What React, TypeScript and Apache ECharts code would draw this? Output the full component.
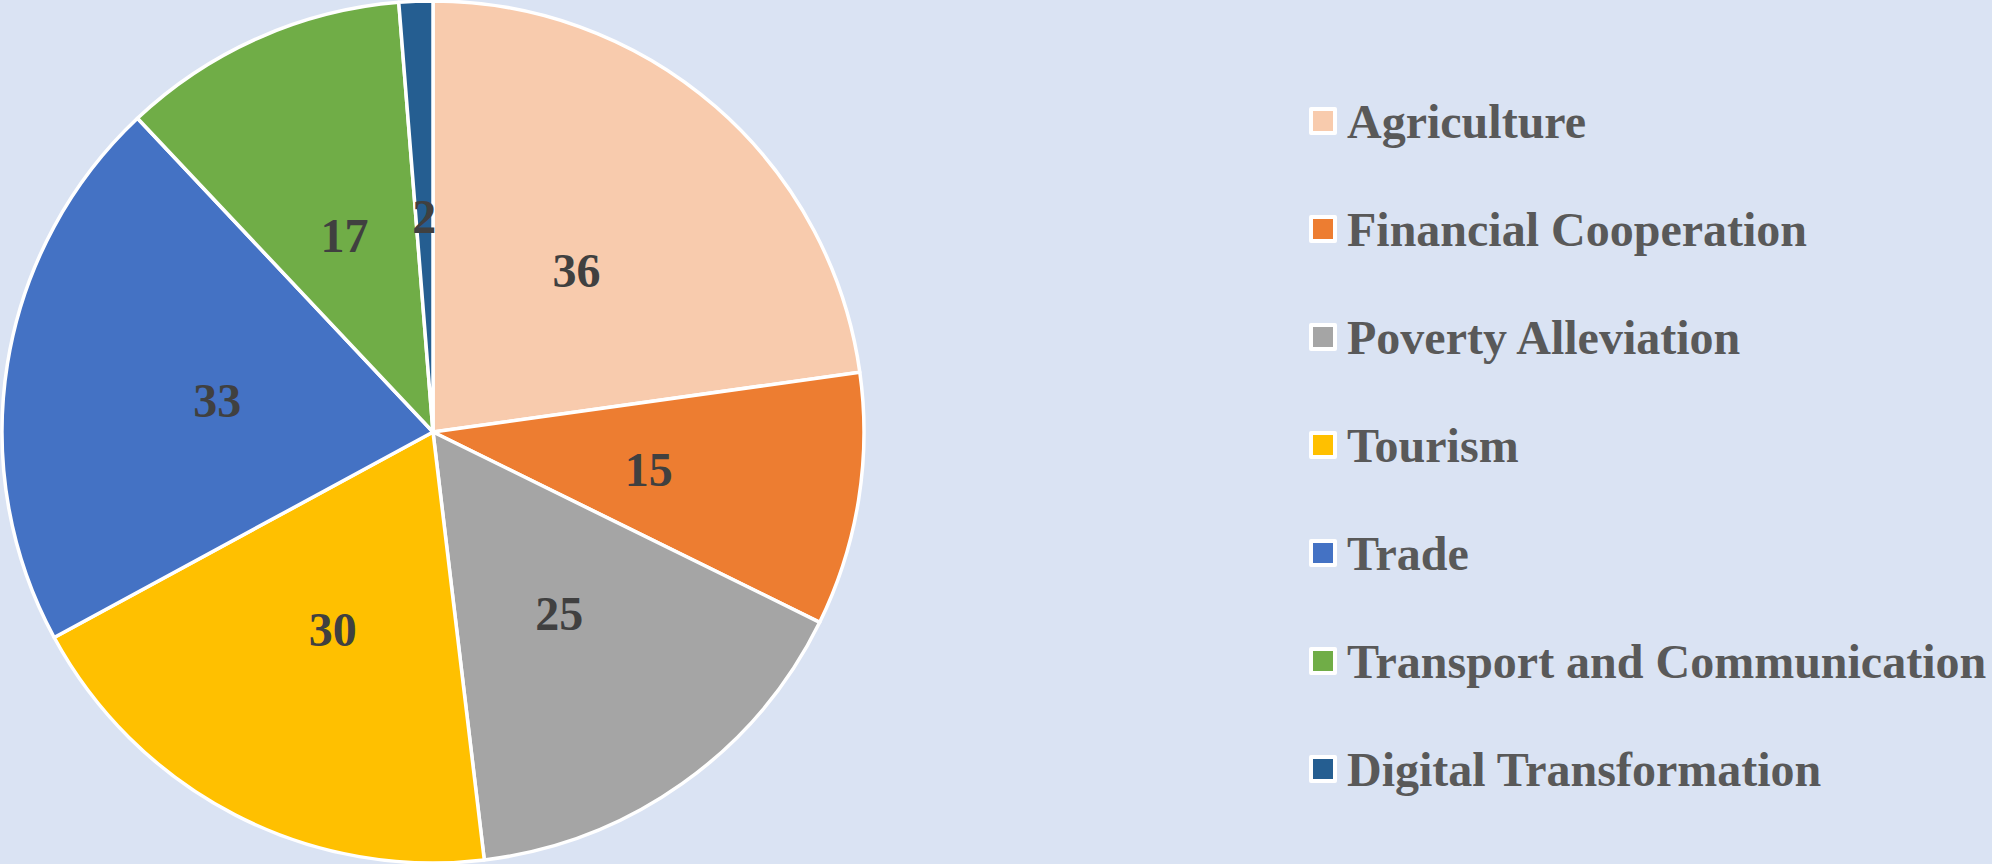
import React, { useEffect, useRef } from "react";
import * as echarts from "echarts";

const categories = [
  "Agriculture",
  "Financial Cooperation",
  "Poverty Alleviation",
  "Tourism",
  "Trade",
  "Transport and Communication",
  "Digital Transformation",
];
const values = [36, 15, 25, 30, 33, 17, 2];
const colors = ["#F8CBAD", "#ED7D31", "#A5A5A5", "#FFC000", "#4472C4", "#70AD47", "#255E91"];

const FONT = '"Liberation Serif", "Times New Roman", serif';

export default function App() {
  const ref = useRef<HTMLDivElement>(null);
  useEffect(() => {
    document.body.style.margin = "0";
    const chart = echarts.init(ref.current!, null, { renderer: "svg" });
    chart.setOption({
      animation: false,
      backgroundColor: "#DAE3F3",
      legend: {
        orient: "vertical",
        left: 1309,
        top: 97,
        padding: 0,
        itemWidth: 24,
        itemHeight: 24,
        itemGap: 60,
        icon: "rect",
        itemStyle: { borderColor: "#FFFFFF", borderWidth: 4 },
        textStyle: {
          fontFamily: FONT,
          fontWeight: "bold",
          fontSize: 48,
          color: "#595959",
          lineHeight: 48,
          padding: [0, 0, 0, 7],
        },
        data: categories,
      },
      series: [
        {
          type: "pie",
          center: [433, 432],
          radius: [0, 431],
          startAngle: 90,
          clockwise: true,
          data: categories.map((c, i) => ({
            name: c,
            value: values[i],
            itemStyle: { color: colors[i] },
          })),
          itemStyle: { borderColor: "#FFFFFF", borderWidth: 3.5 },
          label: {
            show: true,
            position: "inside",
            formatter: "{c}",
            fontFamily: FONT,
            fontWeight: "bold",
            fontSize: 48,
            color: "#404040",
            offset: [0, 3],
          },
          labelLine: { show: false },
          emphasis: { disabled: true },
        },
      ],
    });
    return () => chart.dispose();
  }, []);
  return (
    <div
      ref={ref}
      style={{ position: "absolute", left: 0, top: 0, width: 1992, height: 864 }}
    />
  );
}
